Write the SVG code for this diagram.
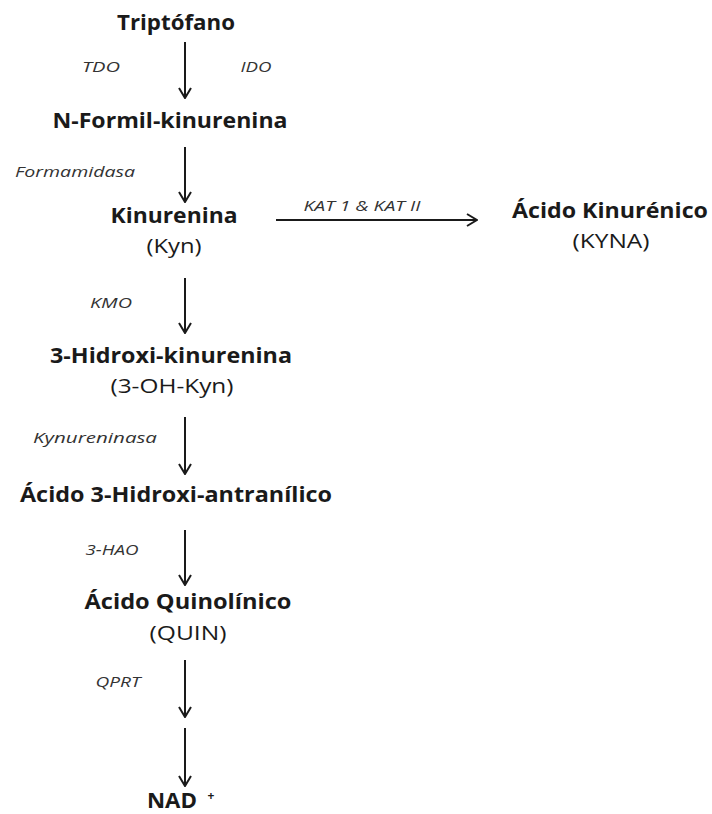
<svg xmlns="http://www.w3.org/2000/svg" width="712" height="814" viewBox="0 0 712 814">
<defs>
<style>
.n{font-family:"Open Sans","DejaVu Sans",sans-serif;font-weight:bold;font-size:21px;fill:#1a1a1a;text-anchor:middle}
.a{font-family:"Open Sans","DejaVu Sans",sans-serif;font-size:20px;fill:#1a1a1a;text-anchor:middle}
.e{font-family:"Open Sans","DejaVu Sans",sans-serif;font-style:italic;font-size:14px;fill:#333;text-anchor:middle}
.c{stroke:#1a1a1a;stroke-width:2;fill:none;marker-end:url(#ah)}
</style>
<marker id="ah" viewBox="0 0 12 14" refX="11" refY="7" markerWidth="12" markerHeight="14" markerUnits="userSpaceOnUse" orient="auto">
<path d="M1,1 L11,7 L1,13" fill="none" stroke="#1a1a1a" stroke-width="2"/>
</marker>
</defs>
<rect width="712" height="814" fill="#fff"/>
<g id="connectors">
<line class="c" x1="185" y1="42" x2="185" y2="98"/>
<line class="c" x1="185" y1="147" x2="185" y2="202"/>
<line class="c" x1="276" y1="220" x2="477" y2="220"/>
<line class="c" x1="185" y1="278" x2="185" y2="333"/>
<line class="c" x1="185" y1="417" x2="185" y2="474"/>
<line class="c" x1="185" y1="530" x2="185" y2="585"/>
<line class="c" x1="185" y1="660" x2="185" y2="717"/>
<line class="c" x1="185" y1="728" x2="185" y2="786"/>
<text class="e" x="101" y="72" textLength="38" lengthAdjust="spacingAndGlyphs">TDO</text>
<text class="e" x="256" y="72" textLength="31" lengthAdjust="spacingAndGlyphs">IDO</text>
<text class="e" x="75" y="177" textLength="120" lengthAdjust="spacingAndGlyphs">Formamidasa</text>
<text class="e" x="362" y="211" textLength="117" lengthAdjust="spacingAndGlyphs">KAT 1 &amp; KAT II</text>
<text class="e" x="111" y="308" textLength="42" lengthAdjust="spacingAndGlyphs">KMO</text>
<text class="e" x="95" y="443" textLength="124" lengthAdjust="spacingAndGlyphs">Kynureninasa</text>
<text class="e" x="112" y="555" textLength="53" lengthAdjust="spacingAndGlyphs">3-HAO</text>
<text class="e" x="118" y="687" textLength="45" lengthAdjust="spacingAndGlyphs">QPRT</text>
</g>
<g id="triptofano"><text class="n" x="176" y="30" textLength="118" lengthAdjust="spacingAndGlyphs">Triptófano</text></g>
<g id="nformil"><text class="n" x="170" y="128" textLength="235" lengthAdjust="spacingAndGlyphs">N-Formil-kinurenina</text></g>
<g id="kinurenina"><text class="n" x="174" y="223" textLength="127" lengthAdjust="spacingAndGlyphs">Kinurenina</text><text class="a" x="174" y="253" textLength="55" lengthAdjust="spacingAndGlyphs">(Kyn)</text></g>
<g id="kyna"><text class="n" x="610" y="218" textLength="196" lengthAdjust="spacingAndGlyphs">Ácido Kinurénico</text><text class="a" x="611" y="248" textLength="77" lengthAdjust="spacingAndGlyphs">(KYNA)</text></g>
<g id="hk"><text class="n" x="171" y="363" textLength="242" lengthAdjust="spacingAndGlyphs">3-Hidroxi-kinurenina</text><text class="a" x="172" y="393" textLength="123" lengthAdjust="spacingAndGlyphs">(3-OH-Kyn)</text></g>
<g id="haa"><text class="n" x="176" y="502" textLength="312" lengthAdjust="spacingAndGlyphs">Ácido 3-Hidroxi-antranílico</text></g>
<g id="quin"><text class="n" x="188" y="609" textLength="207" lengthAdjust="spacingAndGlyphs">Ácido Quinolínico</text><text class="a" x="188" y="640" textLength="77" lengthAdjust="spacingAndGlyphs">(QUIN)</text></g>
<g id="nad"><text class="n" x="172" y="808" textLength="50" lengthAdjust="spacingAndGlyphs">NAD</text><text class="n" x="211" y="800" style="font-size:12px">+</text></g>
</svg>
